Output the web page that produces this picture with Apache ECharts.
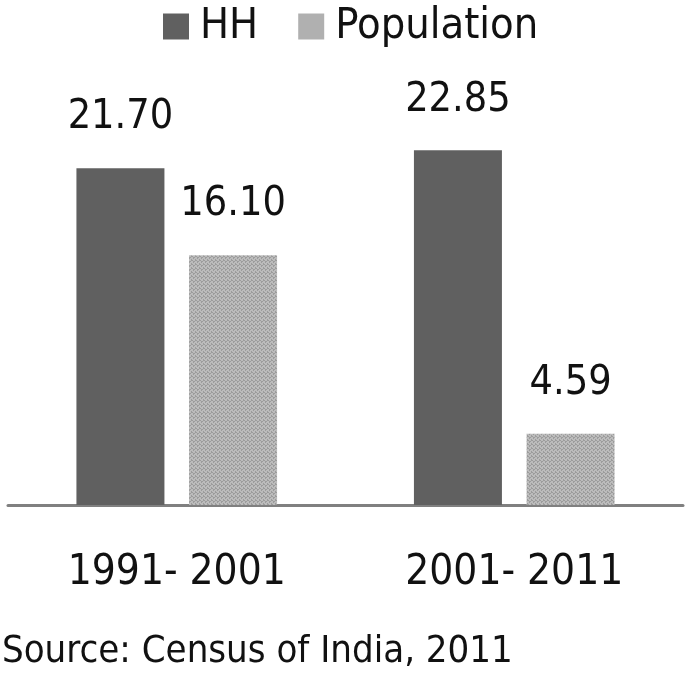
<!DOCTYPE html>
<html>
<head>
<meta charset="utf-8">
<script src="https://cdn.jsdelivr.net/npm/echarts@6/dist/echarts.min.js"></script>
<style>html,body{margin:0;padding:0;background:#fff;}#c{width:685px;height:676px;}</style>
</head>
<body>
<div id="c"></div>
<script>
const categories = ['1991- 2001', '2001- 2011'];
const hhValues = [21.70, 22.85];
const popValues = [16.10, 4.59];
const seriesNames = ['HH', 'Population'];
const sourceText = 'Source: Census of India, 2011';

const FONT = '"DejaVu Sans Condensed", "DejaVu Sans", sans-serif';

// texture for Population bars
const pc = document.createElement('canvas');
pc.width = 4; pc.height = 4;
const pctx = pc.getContext('2d');
pctx.fillStyle = '#bcbcbc'; pctx.fillRect(0, 0, 4, 4);
pctx.fillStyle = '#9c9c9c';
[[0,0],[2,1],[1,2],[3,3],[3,0],[1,1]].forEach(p => pctx.fillRect(p[0], p[1], 1, 1));
const popPattern = { image: pc, repeat: 'repeat' };

const chart = echarts.init(document.getElementById('c'), null, { renderer: 'canvas' });
const labelStyle = {
  show: true, position: 'top', distance: 30,
  fontFamily: FONT, fontSize: 41, color: '#111',
  formatter: p => p.value.toFixed(2)
};
chart.setOption({
  animation: false,
  legend: {
    data: [
      { name: seriesNames[0], itemStyle: { color: '#606060' } },
      { name: seriesNames[1], itemStyle: { color: '#b0b0b0' } }
    ],
    left: 158, top: 0,
    itemWidth: 26, itemHeight: 26, itemGap: 40,
    icon: 'rect',
    textStyle: { fontFamily: FONT, fontSize: 43, color: '#111', padding: [0, 0, 0, 6] }
  },
  grid: { left: 8, right: 2, top: 117, bottom: 171, containLabel: false },
  xAxis: {
    type: 'category', data: categories,
    axisLine: { lineStyle: { color: '#808080', width: 3 } },
    axisTick: { show: false },
    axisLabel: { margin: 47, fontFamily: FONT, fontSize: 42, color: '#111' }
  },
  yAxis: {
    type: 'value', min: 0, max: 25, show: false,
    splitLine: { show: false }
  },
  series: [
    {
      name: seriesNames[0], type: 'bar', data: hhValues,
      barWidth: 88, barGap: '28%',
      itemStyle: { color: '#606060' },
      label: labelStyle
    },
    {
      name: seriesNames[1], type: 'bar', data: popValues,
      barWidth: 88,
      itemStyle: { color: popPattern },
      label: labelStyle
    }
  ],
  graphic: [{
    type: 'text', left: 2, top: 633,
    style: { text: sourceText, font: '38px ' + FONT, fill: '#111' }
  }]
});
</script>
</body>
</html>
